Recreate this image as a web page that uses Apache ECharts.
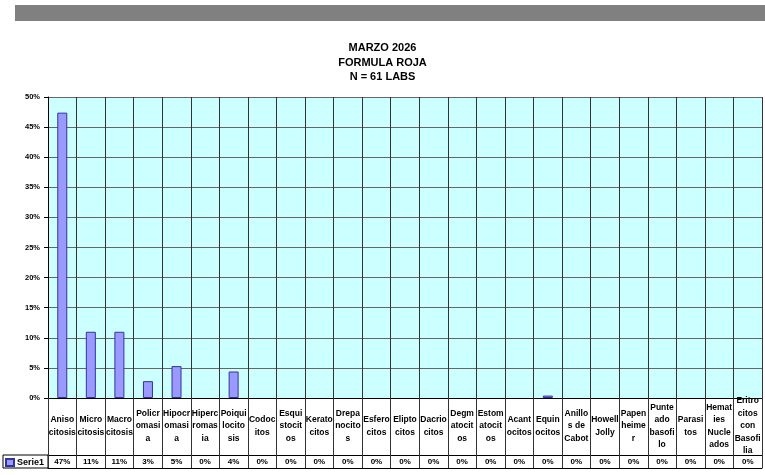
<!DOCTYPE html>
<html>
<head>
<meta charset="utf-8">
<script src="https://cdn.jsdelivr.net/npm/echarts@6/dist/echarts.min.js"></script>
<style>
    html, body { margin: 0; padding: 0; background: #fff; }
    #chart { width: 765px; height: 475px; }
</style>
</head>
<body>
<div id="chart"></div>
<script>
// categories as they wrap in the data table
const categories = [
    'Aniso\ncitosis', 'Micro\ncitosis', 'Macro\ncitosis', 'Policr\nomasi\na', 'Hipocr\nomasi\na',
    'Hiperc\nromas\nia', 'Poiqui\nlocito\nsis', 'Codoc\nitos', 'Esqui\nstocit\nos', 'Kerato\ncitos',
    'Drepa\nnocito\ns', 'Esfero\ncitos', 'Elipto\ncitos', 'Dacrio\ncitos', 'Degm\natocit\nos',
    'Estom\natocit\nos', 'Acant\nocitos', 'Equin\nocitos', 'Anillo\ns de\nCabot', 'Howell\nJolly',
    'Papen\nheime\nr', 'Punte\nado\nbasofi\nlo', 'Parasi\ntos', 'Hemat\nies\nNucle\nados', 'Eritro\ncitos\ncon\nBasofi\nlia'
];
const serie1 = [47.4, 11.0, 11.0, 2.8, 5.3, 0, 4.4, 0, 0, 0, 0, 0, 0, 0, 0, 0, 0, 0.4, 0, 0, 0, 0, 0, 0, 0];
const yTicks = [0, 50, 5];

const tableRow = serie1.map(v => Math.round(v) + '%');
// zero values draw no bar in the original
const barData = serie1.map(v => (v > 0 ? v : null));

const font = 'Liberation Sans, Arial, sans-serif';

const chart = echarts.init(document.getElementById('chart'));
chart.setOption({
    animation: false,
    title: {
        text: 'MARZO 2026\nFORMULA ROJA\nN = 61 LABS',
        left: 'center',
        top: 36,
        textStyle: { fontFamily: font, fontSize: 11, fontWeight: 'bold', lineHeight: 14.5, color: '#000' }
    },
    legend: {
        data: ['Serie1'],
        left: 5,
        top: 458,
        padding: 0,
        icon: 'rect',
        itemWidth: 8,
        itemHeight: 7,
        itemGap: 4,
        textStyle: { fontFamily: font, fontSize: 9, fontWeight: 'bold', color: '#000', padding: [0, 0, 0, -2] }
    },
    grid: {
        left: 48, right: 3, top: 97, bottom: 77,
        show: true,
        backgroundColor: '#CCFFFF',
        borderWidth: 0
    },
    graphic: [
        { type: 'rect', shape: { x: 15, y: 5, width: 750, height: 16 }, style: { fill: '#808080' } },
        { type: 'rect', shape: { x: 3, y: 455, width: 45, height: 13 }, style: { fill: 'none', stroke: '#000', lineWidth: 1 } }
    ],
    xAxis: [
        {
            type: 'category',
            data: categories,
            position: 'bottom',
            axisLine: { show: true, lineStyle: { color: '#000' } },
            axisTick: { show: true, length: 70, lineStyle: { color: '#333' } },
            splitLine: { show: true, interval: 0, lineStyle: { color: '#333' } },
            axisLabel: {
                interval: 0,
                margin: 28,
                verticalAlign: 'middle',
                fontFamily: font,
                fontSize: 8.5,
                fontWeight: 'bold',
                lineHeight: 12.5,
                color: '#000'
            }
        },
        {
            type: 'category',
            data: tableRow,
            position: 'bottom',
            offset: 57,
            axisLine: { show: true, lineStyle: { color: '#000' } },
            axisTick: { show: false },
            axisLabel: {
                interval: 0,
                margin: 7,
                verticalAlign: 'middle',
                fontFamily: font,
                fontSize: 8,
                fontWeight: 'bold',
                color: '#000'
            }
        },
        {
            type: 'category',
            data: tableRow,
            position: 'bottom',
            offset: 70,
            axisLine: { show: true, lineStyle: { color: '#000' } },
            axisTick: { show: false },
            axisLabel: { show: false }
        }
    ],
    yAxis: {
        type: 'value',
        min: yTicks[0],
        max: yTicks[1],
        interval: yTicks[2],
        axisLine: { show: true, lineStyle: { color: '#000' } },
        axisTick: { show: true, length: 4, lineStyle: { color: '#000' } },
        splitLine: { show: true, lineStyle: { color: '#666' } },
        axisLabel: {
            formatter: '{value}%',
            margin: 8,
            fontFamily: font,
            fontSize: 7.5,
            fontWeight: 'bold',
            color: '#000'
        }
    },
    series: [{
        name: 'Serie1',
        type: 'bar',
        data: barData,
        barWidth: 10,
        itemStyle: { color: '#9999FF', borderColor: '#333399', borderWidth: 1 }
    }]
});
</script>
</body>
</html>
